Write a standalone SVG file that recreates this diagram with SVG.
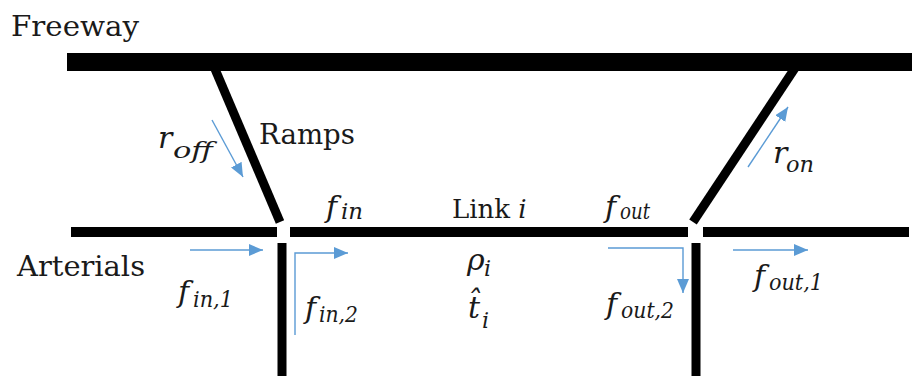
<svg xmlns="http://www.w3.org/2000/svg" width="912" height="376" viewBox="0 0 912 376">
<style>
.road{stroke:#000;fill:none;stroke-linecap:butt}
.arr{stroke:#5B9BD5;stroke-width:1.4;fill:none}
.lbl{fill:#1a1a1a}
.m{font-style:italic;fill:#1a1a1a;font-size:30px}
.s{font-style:italic;fill:#1a1a1a;font-size:22px}
</style>
<defs>
<marker id="ah" markerUnits="userSpaceOnUse" markerWidth="15" markerHeight="12" refX="14" refY="6" orient="auto">
<path d="M0,0 L14,6 L0,12 z" fill="#5B9BD5"/>
</marker>
</defs>
<rect width="912" height="376" fill="#fff"/>
<g font-family="DejaVu Serif, serif">
<g id="freeway">
<rect x="67" y="53" width="845" height="18" fill="#000"/>
<text class="lbl" x="11" y="36" font-size="28" textLength="128" lengthAdjust="spacingAndGlyphs">Freeway</text>
</g>
<g id="ramps">
<line class="road" x1="212" y1="62" x2="280" y2="222" stroke-width="9"/>
<line class="road" x1="799" y1="62" x2="693" y2="222" stroke-width="9"/>
<text class="lbl" x="259" y="144" font-size="27" textLength="96" lengthAdjust="spacingAndGlyphs">Ramps</text>
</g>
<g id="arterials">
<line class="road" x1="71" y1="232" x2="277" y2="232" stroke-width="10"/>
<line class="road" x1="703" y1="232" x2="909" y2="232" stroke-width="10"/>
<line class="road" x1="282" y1="243" x2="282" y2="376" stroke-width="9"/>
<line class="road" x1="696" y1="243" x2="696" y2="376" stroke-width="9"/>
<text class="lbl" x="17" y="276" font-size="28" textLength="128" lengthAdjust="spacingAndGlyphs">Arterials</text>
</g>
<g id="link-i">
<line class="road" x1="290" y1="232" x2="688" y2="232" stroke-width="10"/>
<text class="lbl" x="452" y="218" font-size="26">Link <tspan font-style="italic">i</tspan></text>
<text class="m" x="467" y="270" font-size="26">ρ</text>
<text class="s" x="484" y="276" font-size="20">i</text>
<text class="m" x="468" y="318" font-size="28">t&#x302;</text>
<text class="s" x="482" y="328" font-size="20">i</text>
</g>
<g id="connectors">
<line class="arr" x1="212" y1="120" x2="243" y2="177" marker-end="url(#ah)"/>
<line class="arr" x1="748" y1="167" x2="788" y2="107" marker-end="url(#ah)"/>
<line class="arr" x1="190" y1="250" x2="263" y2="250" marker-end="url(#ah)"/>
<polyline class="arr" points="295,335 295,253 348,253" marker-end="url(#ah)"/>
<polyline class="arr" points="608,248 683,248 683,293" marker-end="url(#ah)"/>
<line class="arr" x1="733" y1="250" x2="808" y2="250" marker-end="url(#ah)"/>
</g>
<g id="labels">
<g id="r-off"><text class="m" x="158" y="148" font-size="28">r</text><text class="s" x="173" y="158" textLength="40" lengthAdjust="spacingAndGlyphs">off</text></g>
<g id="r-on"><text class="m" x="773" y="163" font-size="28">r</text><text class="s" x="786" y="172" textLength="28" lengthAdjust="spacingAndGlyphs">on</text></g>
<g id="f-in"><text class="m" x="326" y="217">f</text><text class="s" x="341" y="219" textLength="22" lengthAdjust="spacingAndGlyphs">in</text></g>
<g id="f-out"><text class="m" x="605" y="217">f</text><text class="s" x="620" y="219" textLength="30" lengthAdjust="spacingAndGlyphs">out</text></g>
<g id="f-in-1"><text class="m" x="178" y="302">f</text><text class="s" x="193" y="307" textLength="40" lengthAdjust="spacingAndGlyphs">in,1</text></g>
<g id="f-in-2"><text class="m" x="305" y="318">f</text><text class="s" x="319" y="322" textLength="39" lengthAdjust="spacingAndGlyphs">in,2</text></g>
<g id="f-out-2"><text class="m" x="606" y="314">f</text><text class="s" x="621" y="318" textLength="53" lengthAdjust="spacingAndGlyphs">out,2</text></g>
<g id="f-out-1"><text class="m" x="754" y="286">f</text><text class="s" x="769" y="290" textLength="54" lengthAdjust="spacingAndGlyphs">out,1</text></g>
</g>
</g>
</svg>
